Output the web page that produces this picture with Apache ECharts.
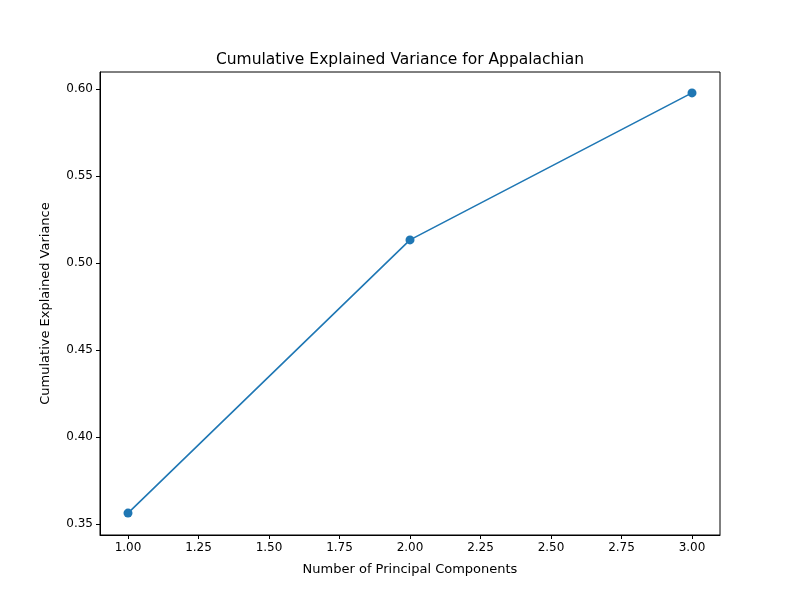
<!DOCTYPE html>
<html>
<head>
<meta charset="utf-8">
<script src="https://cdn.jsdelivr.net/npm/echarts@6/dist/echarts.min.js"></script>
<style>html,body{margin:0;padding:0;background:#fff}#chart{width:800px;height:600px}</style>
</head>
<body>
<div id="chart"></div>
<script>
// values
const components = [1, 2, 3];
const cumVariance = [0.3563, 0.5133, 0.5978];
const xTicks = [1.00, 1.25, 1.50, 1.75, 2.00, 2.25, 2.50, 2.75, 3.00];
const yTicks = [0.35, 0.40, 0.45, 0.50, 0.55, 0.60];

const chart = echarts.init(document.getElementById('chart'));
const font = 'DejaVu Sans';
const axisCommon = {
    axisLine: { show: true, onZero: false, lineStyle: { color: '#000', width: 1 } },
    splitLine: { show: false },
    nameTextStyle: { color: '#000', fontSize: 13, fontFamily: font }
};
chart.setOption({
    animation: false,
    title: {
        text: 'Cumulative Explained Variance for Appalachian',
        left: 'center', top: 47,
        textStyle: { fontSize: 15.5, fontWeight: 'normal', color: '#000', fontFamily: font }
    },
    grid: { left: 100, right: 80, top: 72, bottom: 65, show: true, borderColor: '#000', borderWidth: 1 },
    xAxis: Object.assign({}, axisCommon, {
        type: 'value', min: 0.9007, max: 3.0993,
        name: 'Number of Principal Components', nameLocation: 'middle', nameGap: 28,
        axisTick: { show: true, length: 4, lineStyle: { color: '#000' }, customValues: xTicks },
        axisLabel: { color: '#000', fontSize: 12, fontFamily: font, margin: 7,
            customValues: xTicks, formatter: v => v.toFixed(2) }
    }),
    yAxis: Object.assign({}, axisCommon, {
        type: 'value', min: 0.3437, max: 0.6098,
        name: 'Cumulative Explained Variance', nameLocation: 'middle', nameGap: 48,
        axisTick: { show: true, length: 4, lineStyle: { color: '#000' }, customValues: yTicks },
        axisLabel: { color: '#000', fontSize: 12, fontFamily: font, margin: 7,
            customValues: yTicks, formatter: v => v.toFixed(2) }
    }),
    series: [{
        type: 'line',
        data: components.map((c, i) => [c, cumVariance[i]]),
        symbol: 'circle', symbolSize: 9,
        lineStyle: { color: '#1f77b4', width: 1.6 },
        itemStyle: { color: '#1f77b4' }
    }]
});
</script>
</body>
</html>
